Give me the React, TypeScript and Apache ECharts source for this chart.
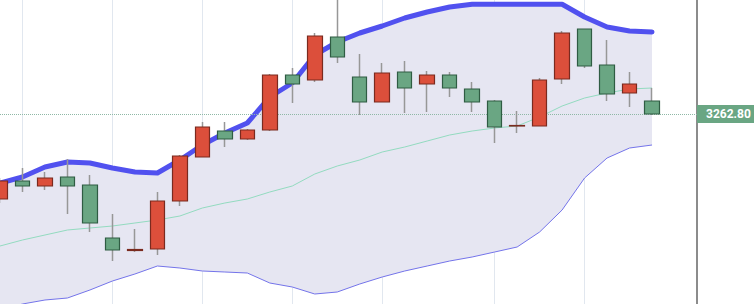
import React, { useEffect, useRef } from "react";
import * as echarts from "echarts";

const categories: string[] = [
  "D01", "D02", "D03", "D04", "D05", "D06", "D07", "D08", "D09", "D10",
  "D11", "D12", "D13", "D14", "D15", "D16", "D17", "D18", "D19", "D20",
  "D21", "D22", "D23", "D24", "D25", "D26", "D27", "D28", "D29", "D30",
];

// [open, close, low, high]
const ohlc: number[][] = [
  [3177.8, 3195.8, 3173.8, 3198.8],
  [3195.8, 3190.8, 3184.8, 3208.8],
  [3190.8, 3198.8, 3186.8, 3204.8],
  [3199.8, 3190.8, 3162.8, 3217.8],
  [3191.8, 3153.8, 3144.8, 3201.8],
  [3138.8, 3126.8, 3115.8, 3162.8],
  [3126.3, 3127.3, 3124.8, 3147.8],
  [3127.8, 3175.8, 3121.8, 3184.8],
  [3175.8, 3220.8, 3170.8, 3221.8],
  [3219.8, 3249.8, 3219.8, 3254.8],
  [3245.8, 3237.8, 3229.8, 3254.8],
  [3237.8, 3246.8, 3236.8, 3247.8],
  [3246.8, 3301.8, 3245.8, 3302.8],
  [3301.8, 3292.8, 3273.8, 3308.8],
  [3296.8, 3340.8, 3294.8, 3343.8],
  [3339.8, 3319.8, 3313.8, 3386.8],
  [3299.8, 3274.8, 3261.8, 3322.8],
  [3274.8, 3303.8, 3274.8, 3313.8],
  [3304.8, 3288.8, 3263.8, 3315.8],
  [3292.8, 3301.8, 3264.8, 3305.8],
  [3301.8, 3288.8, 3279.8, 3304.8],
  [3287.8, 3274.8, 3264.8, 3294.8],
  [3275.8, 3249.8, 3233.8, 3276.8],
  [3250.8, 3251.3, 3243.8, 3265.8],
  [3250.8, 3296.8, 3250.8, 3298.8],
  [3297.8, 3343.8, 3292.8, 3345.8],
  [3347.8, 3310.8, 3308.8, 3347.8],
  [3311.8, 3282.8, 3275.8, 3336.8],
  [3283.8, 3292.8, 3269.8, 3304.8],
  [3275.8, 3262.8, 3261.8, 3288.8],
];

const upperBand: number[] = [
  3193.8, 3199.8, 3209.8, 3214.8, 3213.8, 3208.8, 3204.8, 3203.8, 3216.8, 3231.8,
  3243.8, 3253.8, 3279.8, 3293.8, 3321.8, 3334.8, 3343.8, 3350.8, 3358.8, 3364.8,
  3369.8, 3372.5, 3372.5, 3372.5, 3372.5, 3372.5, 3359.8, 3349.8, 3345.8, 3344.8,
];

const middleBand: number[] = [
  3130.8, 3136.8, 3141.8, 3146.8, 3148.8, 3150.8, 3153.8, 3156.8, 3160.8, 3168.8,
  3173.8, 3177.8, 3184.8, 3190.8, 3202.8, 3210.8, 3216.8, 3224.8, 3229.8, 3235.8,
  3241.8, 3245.8, 3248.8, 3250.8, 3259.8, 3270.8, 3278.8, 3283.8, 3287.8, 3288.8,
];

const lowerBand: number[] = [
  3066.8, 3072.8, 3076.8, 3078.8, 3086.8, 3095.8, 3102.8, 3110.8, 3108.8, 3105.8,
  3104.8, 3103.8, 3093.8, 3089.8, 3082.8, 3084.8, 3092.8, 3099.8, 3105.8, 3110.8,
  3115.8, 3119.8, 3124.8, 3129.8, 3144.8, 3166.8, 3198.8, 3218.8, 3228.8, 3231.8,
];

const lastPrice = 3262.8;
const gridLineIndices: number[] = [1, 5, 9, 13, 17, 22, 26];
const yMin = 3072.8;
const yMax = 3376.8;

export default function App() {
  const ref = useRef<HTMLDivElement>(null);

  useEffect(() => {
    document.body.style.margin = "0";
    if (!ref.current) return;
    const chart = echarts.init(ref.current, null, { renderer: "svg" });

    const bodies = ohlc.map(([o, c]) => [o, c, Math.min(o, c), Math.max(o, c)]);
    const bandWidth = upperBand.map((u, i) => +(u - lowerBand[i]).toFixed(2));

    chart.setOption({
      animation: false,
      grid: { left: 0, right: 57, top: 0, bottom: 0, containLabel: false },
      xAxis: {
        type: "category",
        data: categories,
        boundaryGap: false,
        max: 31,
        axisLine: { show: false },
        axisTick: { show: false },
        axisLabel: { show: false },
        splitLine: {
          show: true,
          interval: (index: number) => gridLineIndices.includes(index),
          lineStyle: { color: "#e1e7ef", width: 1 },
        },
      },
      yAxis: {
        type: "value",
        position: "right",
        min: yMin,
        max: yMax,
        axisLine: { show: true, lineStyle: { color: "#8c8c8c", width: 2 } },
        axisTick: { show: false },
        axisLabel: { show: false },
        splitLine: { show: false },
      },
      series: [
        {
          type: "line",
          name: "lower",
          data: lowerBand,
          stack: "band",
          symbol: "none",
          z: 2,
          lineStyle: { color: "#7474ea", width: 1 },
        },
        {
          type: "line",
          name: "bandFill",
          data: bandWidth,
          stack: "band",
          symbol: "none",
          z: 1,
          lineStyle: { width: 0, opacity: 0 },
          areaStyle: { color: "#e6e6f2", opacity: 1 },
        },
        {
          type: "line",
          name: "middle",
          data: middleBand,
          symbol: "none",
          z: 3,
          lineStyle: { color: "#93dbc0", width: 1 },
        },
        {
          type: "line",
          name: "upper",
          data: upperBand,
          symbol: "none",
          z: 4,
          lineStyle: { color: "#5151ef", width: 5, cap: "round", join: "round" },
        },
        {
          type: "candlestick",
          name: "wicks",
          data: ohlc,
          barWidth: 1,
          z: 5,
          itemStyle: {
            color: "#979797",
            color0: "#979797",
            borderColor: "#979797",
            borderColor0: "#979797",
            borderWidth: 1.5,
          },
        },
        {
          type: "candlestick",
          name: "bodies",
          data: bodies,
          barWidth: 15,
          z: 6,
          itemStyle: {
            color: "#dc4f3b",
            color0: "#6aa683",
            borderColor: "#7a2a1f",
            borderColor0: "#2f5c43",
            borderWidth: 1.2,
          },
          markLine: {
            silent: true,
            symbol: "none",
            data: [{ yAxis: lastPrice }],
            lineStyle: { color: "#8fb8a6", type: "dotted", width: 1 },
            label: {
              show: true,
              position: "end",
              distance: 0,
              formatter: () => lastPrice.toFixed(2),
              backgroundColor: "#6aa683",
              color: "#ffffff",
              fontFamily: "Roboto, sans-serif",
              fontWeight: "bold",
              fontSize: 12,
              lineHeight: 18,
              padding: [0, 4, 0, 9],
            },
          },
        },
      ],
    });

    return () => chart.dispose();
  }, []);

  return <div ref={ref} style={{ width: 754, height: 304 }} />;
}
